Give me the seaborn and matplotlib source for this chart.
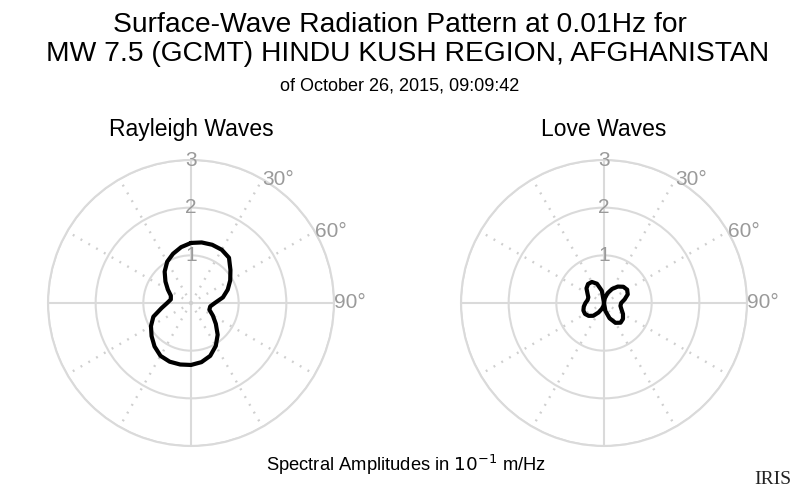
import numpy as np
import matplotlib
matplotlib.use("Agg")
import matplotlib.pyplot as plt
import seaborn as sns

# ---- data (azimuth in degrees, amplitude in 10^-1 m/Hz)
azimuth_deg = [0, 10, 20, 30, 40, 50, 60, 70, 80, 90, 100, 110,
               120, 130, 140, 150, 160, 170, 180, 190, 200, 210, 220, 230,
               240, 250, 260, 270, 280, 290, 300, 310, 320, 330, 340, 350]
rayleigh_amp = [1.26, 1.29, 1.30, 1.29, 1.24, 1.08, 0.95, 0.82, 0.68, 0.50, 0.41, 0.41,
                0.53, 0.68, 0.87, 1.04, 1.18, 1.26, 1.30, 1.31, 1.31, 1.28, 1.19, 1.08,
                0.97, 0.84, 0.63, 0.50, 0.43, 0.45, 0.56, 0.70, 0.86, 1.00, 1.10, 1.19]
love_amp = [0.00, 0.10, 0.22, 0.34, 0.45, 0.53, 0.56, 0.53, 0.44, 0.36, 0.35, 0.39,
            0.46, 0.52, 0.54, 0.48, 0.34, 0.17, 0.00, 0.06, 0.13, 0.23, 0.35, 0.42,
            0.46, 0.46, 0.43, 0.39, 0.35, 0.35, 0.40, 0.48, 0.52, 0.51, 0.43, 0.26]
radial_ticks = [1, 2, 3]
angle_labels = ["30°", "60°", "90°"]
angle_label_pos = [30, 60, 90]
panel_titles = ["Rayleigh Waves", "Love Waves"]

title_lines = ["Surface-Wave Radiation Pattern at 0.01Hz for",
               "MW 7.5 (GCMT) HINDU KUSH REGION, AFGHANISTAN"]
subtitle = "of October 26, 2015, 09:09:42"
caption = r"Spectral Amplitudes in $10^{-1}$ m/Hz"

sns.set_theme(style="white")
plt.rcParams['font.family'] = ['Liberation Sans', 'DejaVu Sans']
plt.rcParams['mathtext.fontset'] = 'dejavusans'
plt.rcParams['text.color'] = 'black'

W, H = 800, 493
fig = plt.figure(figsize=(W / 100, H / 100), dpi=100)
fig.patch.set_facecolor('white')

grid_col = '#dadada'
label_col = '#9a9a9a'
R = 143  # pixel radius of outer ring


def make_axes(cx, cy):
    return fig.add_axes([(cx - R) / W, (H - cy - R) / H, 2 * R / W, 2 * R / H],
                        projection='polar')


def style_polar(ax, amp):
    th = np.deg2rad(np.append(azimuth_deg, azimuth_deg[0] + 360))
    rr = np.append(amp, amp[0])
    line = sns.lineplot(x=th, y=rr, ax=ax, color='black', linewidth=3.0,
                        sort=False, estimator=None)
    for ln in ax.lines:
        ln.set_solid_joinstyle('round')
    ax.set_theta_zero_location('N')
    ax.set_theta_direction(-1)
    ax.set_rlim(0, 3)
    ax.set_yticks(radial_ticks)
    ax.set_yticklabels([])
    ax.set_xticks(np.deg2rad([0, 90, 180, 270]))
    ax.set_xticklabels([])
    ax.set_xticks(np.deg2rad([30, 60, 120, 150, 210, 240, 300, 330]), minor=True)
    ax.tick_params(which='both', length=0)
    ax.grid(True, which='major', color=grid_col, linewidth=1.5, linestyle='-')
    ax.xaxis.grid(True, which='minor', color='#cfcfcf', linewidth=1.7,
                  linestyle=(0, (0.8, 3.0)))
    ax.spines['polar'].set_color(grid_col)
    ax.spines['polar'].set_linewidth(1.5)
    ax.set_facecolor('white')
    ax.set_xlabel('')
    ax.set_ylabel('')
    for r in radial_ticks:
        ax.text(0, r, str(r), ha='center', va='center', color=label_col,
                fontsize=15)
    for a, lab in zip(angle_label_pos, angle_labels):
        ax.text(np.deg2rad(a), 3.0, lab, ha='left', va='center',
                color=label_col, fontsize=15)


ax1 = make_axes(191, 303)
style_polar(ax1, rayleigh_amp)
ax2 = make_axes(604, 303)
style_polar(ax2, love_amp)

fig.text(191 / W, 1 - 129 / H, panel_titles[0], ha='center', va='center',
         fontsize=16.5, color='black')
fig.text(604 / W, 1 - 129 / H, panel_titles[1], ha='center', va='center',
         fontsize=16.5, color='black')

fig.text(0.5, 1 - 25 / H, title_lines[0], ha='center', va='center', fontsize=20.3,
         color='black')
fig.text(408 / W, 1 - 54 / H, title_lines[1], ha='center', va='center', fontsize=20.3,
         color='black')
fig.text(0.5, 1 - 86 / H, subtitle, ha='center', va='center', fontsize=13,
         color='black')
fig.text(406 / W, 1 - 465 / H, caption, ha='center', va='center', fontsize=13.2,
         color='black')
fig.text(773 / W, 1 - 480 / H, "IRIS", ha='center', va='center', fontsize=14,
         family=['Liberation Serif', 'DejaVu Serif'], color='#222222')

fig.savefig('out.png', dpi=100, facecolor='white')
